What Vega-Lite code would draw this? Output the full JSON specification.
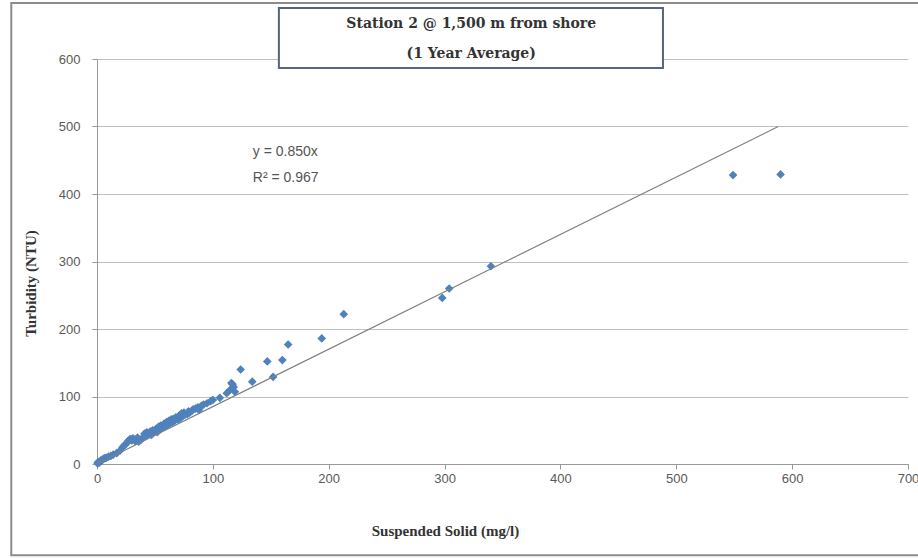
{
  "$schema": "https://vega.github.io/schema/vega-lite/v6.json",
  "width": 811,
  "height": 405,
  "autosize": {"type": "none"},
  "padding": {"left": 97, "top": 59, "right": 10, "bottom": 94},
  "background": "white",
  "config": {
    "view": {"stroke": null},
    "axis": {
      "labelFont": "Liberation Sans Narrow, Liberation Sans, sans-serif",
      "labelFontSize": 13,
      "labelColor": "#595959",
      "titleFont": "Liberation Serif, serif",
      "titleFontSize": 15,
      "titleFontWeight": "bold",
      "titleColor": "#333333",
      "domainColor": "#999999",
      "tickColor": "#999999",
      "gridColor": "#c0c0c0",
      "gridWidth": 1
    }
  },
  "datasets": {
    "points": [
      {"ss": 0.5, "turb": 1}, {"ss": 1, "turb": 3}, {"ss": 2, "turb": 2}, {"ss": 3, "turb": 5},
      {"ss": 4, "turb": 5}, {"ss": 5, "turb": 7}, {"ss": 6, "turb": 8}, {"ss": 7, "turb": 9},
      {"ss": 8, "turb": 9}, {"ss": 10, "turb": 11}, {"ss": 12, "turb": 12}, {"ss": 14, "turb": 14},
      {"ss": 17, "turb": 16}, {"ss": 20, "turb": 20}, {"ss": 22, "turb": 25}, {"ss": 24, "turb": 28},
      {"ss": 25, "turb": 30}, {"ss": 26, "turb": 32}, {"ss": 27, "turb": 34}, {"ss": 28, "turb": 36},
      {"ss": 29, "turb": 37}, {"ss": 30, "turb": 35}, {"ss": 31, "turb": 38}, {"ss": 32, "turb": 36},
      {"ss": 33, "turb": 34}, {"ss": 34, "turb": 37}, {"ss": 35, "turb": 39}, {"ss": 36, "turb": 33},
      {"ss": 38, "turb": 36}, {"ss": 40, "turb": 40}, {"ss": 41, "turb": 45}, {"ss": 42, "turb": 42},
      {"ss": 43, "turb": 47}, {"ss": 44, "turb": 44}, {"ss": 45, "turb": 46}, {"ss": 46, "turb": 48},
      {"ss": 47, "turb": 43}, {"ss": 48, "turb": 50}, {"ss": 50, "turb": 49}, {"ss": 51, "turb": 52},
      {"ss": 52, "turb": 47}, {"ss": 53, "turb": 55}, {"ss": 54, "turb": 51}, {"ss": 55, "turb": 57},
      {"ss": 56, "turb": 53}, {"ss": 57, "turb": 56}, {"ss": 58, "turb": 60}, {"ss": 59, "turb": 56},
      {"ss": 60, "turb": 62}, {"ss": 61, "turb": 58}, {"ss": 62, "turb": 64}, {"ss": 63, "turb": 60},
      {"ss": 64, "turb": 66}, {"ss": 65, "turb": 62}, {"ss": 66, "turb": 67}, {"ss": 67, "turb": 64},
      {"ss": 68, "turb": 69}, {"ss": 70, "turb": 66}, {"ss": 71, "turb": 72}, {"ss": 72, "turb": 68},
      {"ss": 73, "turb": 75}, {"ss": 74, "turb": 71}, {"ss": 75, "turb": 76}, {"ss": 76, "turb": 73},
      {"ss": 78, "turb": 74}, {"ss": 79, "turb": 78}, {"ss": 80, "turb": 76}, {"ss": 82, "turb": 79},
      {"ss": 83, "turb": 81}, {"ss": 85, "turb": 82}, {"ss": 87, "turb": 84}, {"ss": 88, "turb": 80},
      {"ss": 90, "turb": 86}, {"ss": 92, "turb": 88}, {"ss": 95, "turb": 90}, {"ss": 98, "turb": 93},
      {"ss": 100, "turb": 95}, {"ss": 106, "turb": 98}, {"ss": 112, "turb": 105}, {"ss": 115, "turb": 110},
      {"ss": 117, "turb": 118}, {"ss": 119, "turb": 107}, {"ss": 118, "turb": 114}, {"ss": 116, "turb": 120},
      {"ss": 124, "turb": 140}, {"ss": 134, "turb": 122}, {"ss": 147, "turb": 152}, {"ss": 152, "turb": 129},
      {"ss": 160, "turb": 154}, {"ss": 165, "turb": 177}, {"ss": 194, "turb": 186}, {"ss": 213, "turb": 222},
      {"ss": 298, "turb": 246}, {"ss": 304, "turb": 260}, {"ss": 340, "turb": 293}, {"ss": 549, "turb": 428},
      {"ss": 590, "turb": 429}
    ],
    "trend": [{"ss": 0, "turb": 0}, {"ss": 588, "turb": 500}],
    "one": [{}]
  },
  "layer": [
    {
      "data": {"name": "one"},
      "mark": {"type": "rect", "fill": null, "stroke": "#8c8c8c", "strokeWidth": 2, "clip": false},
      "encoding": {
        "x": {"datum": -74}, "x2": {"datum": 800},
        "y": {"datum": -135}, "y2": {"datum": 683}
      }
    },
    {
      "data": {"name": "points"},
      "mark": {"type": "point", "shape": "diamond", "filled": true, "color": "#4f81bd", "size": 75, "opacity": 1},
      "encoding": {
        "x": {
          "field": "ss", "type": "quantitative",
          "scale": {"domain": [0, 700], "nice": false, "zero": false},
          "axis": {
            "title": "Suspended Solid (mg/l)",
            "values": [0, 100, 200, 300, 400, 500, 600, 700],
            "grid": false, "tickSize": 5, "labelPadding": 3,
            "labelFlush": false, "labelOverlap": false, "labelBound": false,
            "titleX": 348, "titleY": 66, "titleBaseline": "middle", "titleAnchor": null
          }
        },
        "y": {
          "field": "turb", "type": "quantitative",
          "scale": {"domain": [0, 600], "nice": false, "zero": false},
          "axis": {
            "title": "Turbidity (NTU)",
            "values": [0, 100, 200, 300, 400, 500, 600],
            "grid": true, "tickSize": 5, "labelPadding": 12,
            "labelFlush": false, "labelOverlap": false,
            "titleX": -67, "titleY": 224, "titleAngle": 270, "titleAlign": "center", "titleBaseline": "middle"
          }
        }
      }
    },
    {
      "data": {"name": "trend"},
      "mark": {"type": "line", "color": "#808080", "strokeWidth": 1.2},
      "encoding": {
        "x": {"field": "ss", "type": "quantitative"},
        "y": {"field": "turb", "type": "quantitative"}
      }
    },
    {
      "data": {"name": "one"},
      "mark": {"type": "text", "align": "left", "baseline": "middle", "font": "Liberation Sans Narrow, Liberation Sans, sans-serif", "fontSize": 14, "color": "#555555", "text": "y = 0.850x"},
      "encoding": {"x": {"datum": 134.5}, "y": {"datum": 462}}
    },
    {
      "data": {"name": "one"},
      "mark": {"type": "text", "align": "left", "baseline": "middle", "font": "Liberation Sans Narrow, Liberation Sans, sans-serif", "fontSize": 14, "color": "#555555", "text": "R² = 0.967"},
      "encoding": {"x": {"datum": 134.5}, "y": {"datum": 424}}
    },
    {
      "data": {"name": "one"},
      "mark": {"type": "rect", "fill": "white", "stroke": "#56647e", "strokeWidth": 2, "clip": false},
      "encoding": {
        "x": {"datum": 157}, "x2": {"datum": 488.5},
        "y": {"datum": 586.5}, "y2": {"datum": 675.5}
      }
    },
    {
      "data": {"name": "one"},
      "mark": {"type": "text", "align": "center", "baseline": "middle", "font": "DejaVu Serif, serif", "fontWeight": "bold", "fontSize": 14, "color": "#333333", "text": "Station 2 @ 1,500 m from shore"},
      "encoding": {"x": {"datum": 323}, "y": {"datum": 652}}
    },
    {
      "data": {"name": "one"},
      "mark": {"type": "text", "align": "center", "baseline": "middle", "font": "DejaVu Serif, serif", "fontWeight": "bold", "fontSize": 14, "color": "#333333", "text": "(1 Year Average)"},
      "encoding": {"x": {"datum": 323}, "y": {"datum": 607}}
    }
  ]
}
